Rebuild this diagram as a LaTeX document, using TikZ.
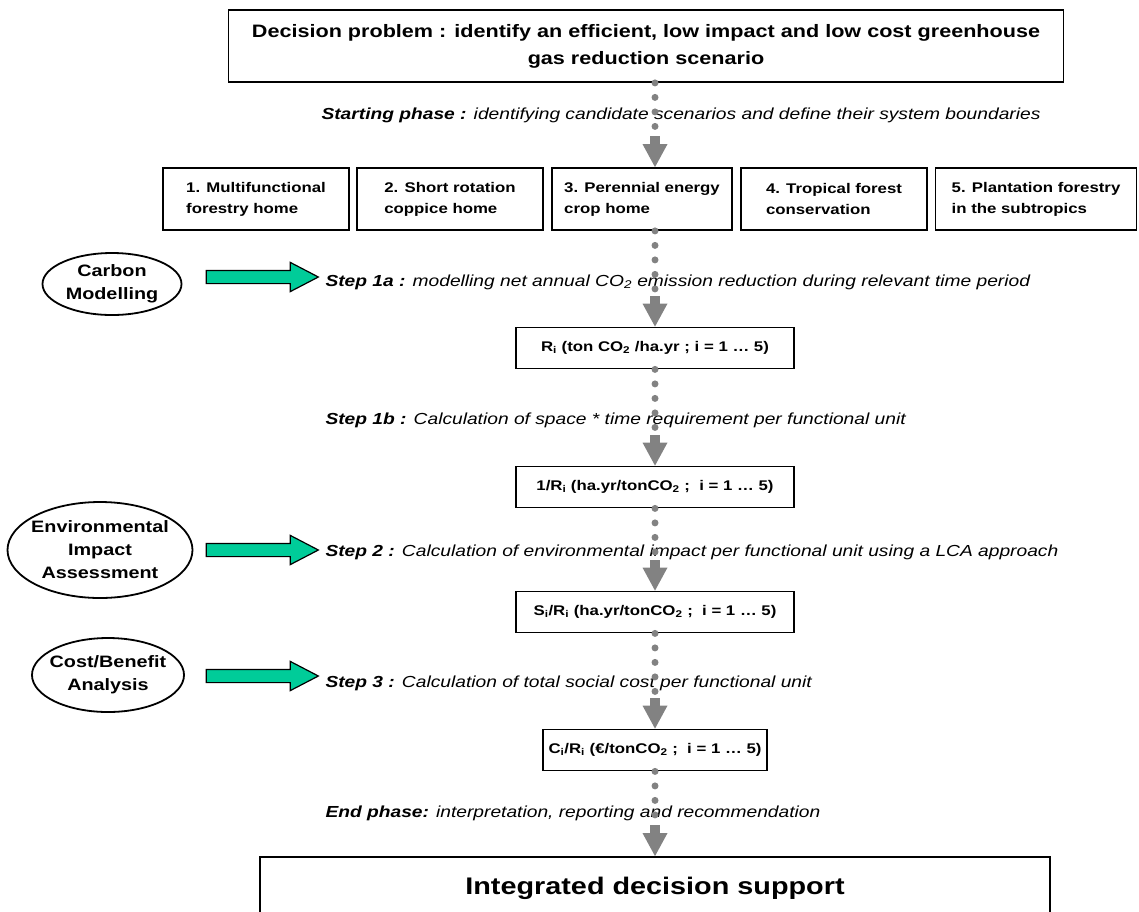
\documentclass[tikz,border=0pt]{standalone}
\usepackage{fontspec}
\setmainfont{Liberation Sans}[FakeStretch=1.2]
\usetikzlibrary{arrows.meta,shapes.geometric,shapes.arrows}
\definecolor{flowgray}{RGB}{130,130,130}
\definecolor{feedgreen}{RGB}{0,204,153}

\begin{document}
\begin{tikzpicture}
            [x=1pt,y=-1pt,
             box/.style={draw,line width=1.8pt,inner sep=0pt},
             topbox/.style={box,minimum width=835pt,minimum height=72pt,align=center,font=\fontsize{18}{27}\selectfont\bfseries},
             scen/.style={box,minimum height=62pt,align=left,font=\fontsize{14}{21}\selectfont\bfseries},
             res/.style={box,minimum width=278pt,minimum height=41pt,font=\fontsize{14}{16}\selectfont\bfseries},
             tool/.style={ellipse,draw,line width=1.8pt,inner xsep=-5pt,inner ysep=0pt,align=center,font=\fontsize{16.5}{23}\selectfont\bfseries},
             phase/.style={anchor=west,font=\fontsize{16}{20}\selectfont\itshape},
             feed/.style={single arrow,draw,line width=1.2pt,fill=feedgreen,inner xsep=0pt,inner ysep=6pt,
                          minimum height=112pt,single arrow head extend=8pt,single arrow tip angle=55},
             flow/.style={draw=flowgray,line width=7pt,line cap=round,dash pattern=on 0pt off 14.5pt,
                          -{Rectangle[width=10pt,length=8pt,line width=0pt]Triangle[width=25pt,length=23pt,line width=0pt]}}]

            \useasboundingbox (0,0) rectangle (1139,911);

            % problem and scenarios
            \node (dp) [topbox] at (646,46) {Decision problem : identify an efficient, low impact and low cost greenhouse\\gas reduction scenario};
            \node (sp) [phase] at (318,115) {\textbf{Starting phase :} identifying candidate scenarios and define their system boundaries};

            \node (s1) [scen,minimum width=186pt] at (256,199) {1. Multifunctional\\forestry home};
            \node (s2) [scen,minimum width=186pt] at (450,199) {2. Short rotation\\coppice home};
            \node (s3) [scen,minimum width=180pt] at (642,199) {3. Perennial energy\\crop home};
            \node (s4) [scen,minimum width=186pt] at (834,199) {4. Tropical forest\\conservation};
            \node (s5) [scen,minimum width=201pt] at (1036,199) {5. Plantation forestry\\in the subtropics};

            % steps
            \node (st1a) [phase] at (322,282) {\textbf{Step 1a :} modelling net annual CO\textsubscript{2} emission reduction during relevant time period};
            \node (r1) [res] at (655,348) {R\textsubscript{i} (ton CO\textsubscript{2} /ha.yr ; i = 1 … 5)};
            \node (st1b) [phase] at (322,420) {\textbf{Step 1b :} Calculation of space * time requirement per functional unit};
            \node (r2) [res] at (655,487) {1/R\textsubscript{i} (ha.yr/tonCO\textsubscript{2} ;~ i = 1 … 5)};
            \node (st2) [phase] at (322,552) {\textbf{Step 2 :} Calculation of environmental impact per functional unit using a LCA approach};
            \node (r3) [res] at (655,612) {S\textsubscript{i}/R\textsubscript{i} (ha.yr/tonCO\textsubscript{2} ;~ i = 1 … 5)};
            \node (st3) [phase] at (322,683) {\textbf{Step 3 :} Calculation of total social cost per functional unit};
            \node (r4) [res,minimum width=224pt] at (655,750) {C\textsubscript{i}/R\textsubscript{i} (€/tonCO\textsubscript{2} ;~ i = 1 … 5)};
            \node (ep) [phase] at (322,813) {\textbf{End phase:} interpretation, reporting and recommendation};
            \node (ds) [box,minimum width=790pt,minimum height=62pt,font=\fontsize{24}{28}\selectfont\bfseries] at (655,888) {Integrated decision support};

            % supporting tools
            \node (cm) [tool,minimum width=139pt,minimum height=62pt] at (112,284) {Carbon\\Modelling};
            \node (eia) [tool,minimum width=185pt,minimum height=96pt] at (100,550) {Environmental\\Impact\\Assessment};
            \node (cba) [tool,minimum width=152pt,minimum height=74pt] at (108,675) {Cost/Benefit\\Analysis};

            \node (a1) [feed] at (256,277) {};
            \node (a2) [feed] at (256,550) {};
            \node (a3) [feed] at (256,676) {};

            % flow
            \draw[flow] (dp.south -| r1.north) -- (s3.north -| r1.north);
            \draw[flow] (s3.south -| r1.north) -- (r1.north);
            \draw[flow] (r1.south) -- (r2.north);
            \draw[flow] (r2.south) -- (r3.north);
            \draw[flow] (r3.south) -- (r4.north);
            \draw[flow] (r4.south) -- (ds.north -| r4.south);
        \end{tikzpicture}
\end{document}
